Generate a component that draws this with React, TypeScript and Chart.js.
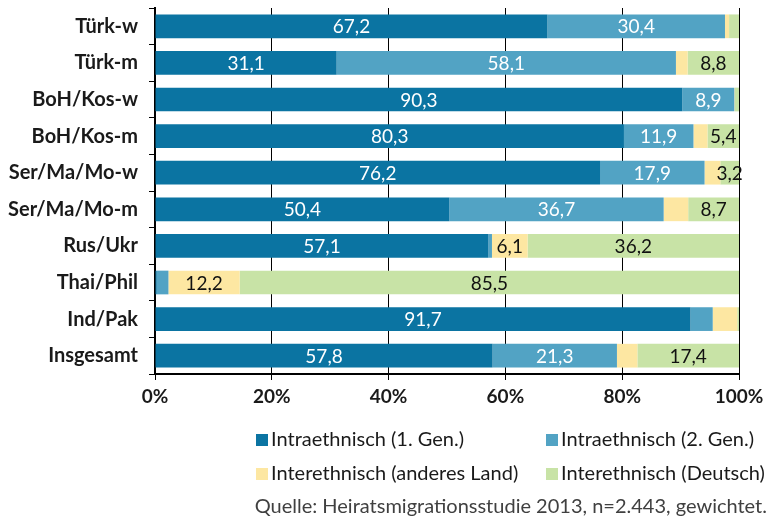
import React, { useEffect, useRef } from "react";
import { Chart, registerables } from "chart.js";

Chart.register(...registerables);

const categories = ["Türk-w", "Türk-m", "BoH/Kos-w", "BoH/Kos-m", "Ser/Ma/Mo-w", "Ser/Ma/Mo-m", "Rus/Ukr", "Thai/Phil", "Ind/Pak", "Insgesamt"];
const intra1 = [67.2, 31.1, 90.3, 80.3, 76.2, 50.4, 57.1, 0.3, 91.7, 57.8];
const intra2 = [30.4, 58.1, 8.9, 11.9, 17.9, 36.7, 0.6, 2.0, 3.8, 21.3];
const interOther = [0.7, 2.0, 0.1, 2.4, 2.7, 4.2, 6.1, 12.2, 4.2, 3.5];
const interGerman = [1.7, 8.8, 0.7, 5.4, 3.2, 8.7, 36.2, 85.5, 0.3, 17.4];
const seriesNames = ["Intraethnisch (1. Gen.)", "Intraethnisch (2. Gen.)", "Interethnisch (anderes Land)", "Interethnisch (Deutsch)"];
const seriesColors = ["#0b74a2", "#52a3c4", "#fde7a2", "#c8e3a6"];
const labelColors = ["#ffffff", "#ffffff", "#111111", "#111111"];
const labelMin = [5, 5, 6, 3];
const xTicks = [0, 20, 40, 60, 80, 100];
const source = "Quelle: Heiratsmigrationsstudie 2013, n=2.443, gewichtet.";

const FONT = "Lato, 'Open Sans', sans-serif";

const labelPlugin = {
  id: "segLabels",
  afterDatasetsDraw(chart: any) {
    const ctx = chart.ctx;
    ctx.save();
    ctx.font = `19px ${FONT}`;
    ctx.textAlign = "center";
    ctx.textBaseline = "middle";
    chart.data.datasets.forEach((ds: any, di: number) => {
      const meta = chart.getDatasetMeta(di);
      meta.data.forEach((el: any, i: number) => {
        const v = ds.data[i];
        if (v < labelMin[di]) return;
        ctx.fillStyle = labelColors[di];
        ctx.fillText(v.toFixed(1).replace(".", ","), (el.x + el.base) / 2, el.y + 1);
      });
    });
    ctx.restore();
  },
};

const legendPlugin = {
  id: "customLegend",
  afterDraw(chart: any) {
    const ctx = chart.ctx;
    ctx.save();
    ctx.font = `20px ${FONT}`;
    ctx.textBaseline = "middle";
    ctx.textAlign = "left";
    const cols = [256, 546];
    const rows = [440, 474];
    seriesNames.forEach((name, i) => {
      const x = cols[i % 2];
      const y = rows[Math.floor(i / 2)];
      ctx.fillStyle = seriesColors[i];
      ctx.fillRect(x, y - 6, 12, 12);
      ctx.fillStyle = "#1a1a1a";
      ctx.fillText(name, x + 15, y);
    });
    ctx.fillStyle = "#404040";
    ctx.textAlign = "right";
    ctx.fillText(source, 767, 507);
    ctx.restore();
  },
};

export default function App() {
  const ref = useRef<HTMLCanvasElement | null>(null);
  useEffect(() => {
    document.body.style.margin = "0";
    const datasets = [intra1, intra2, interOther, interGerman].map((d, i) => ({
      label: seriesNames[i],
      data: d,
      backgroundColor: seriesColors[i],
      borderWidth: 0,
      barPercentage: 0.9,
      categoryPercentage: 0.72,
    }));
    const chart = new Chart(ref.current as HTMLCanvasElement, {
      type: "bar",
      data: { labels: categories, datasets },
      options: {
        indexAxis: "y",
        animation: false,
        responsive: true,
        maintainAspectRatio: false,
        layout: { padding: { top: 8, right: 33, bottom: 107, left: 0 } },
        plugins: { legend: { display: false }, tooltip: { enabled: false } },
        scales: {
          x: {
            stacked: true,
            min: 0,
            max: 100,
            afterBuildTicks: (s: any) => { s.ticks = xTicks.map((v) => ({ value: v })); },
            afterFit: (s: any) => { s.height = 40; },
            ticks: {
              callback: (v: any) => v + "%",
              font: { family: FONT, size: 19, weight: "bold" },
              color: "#1a1a1a",
              padding: 5,
              maxRotation: 0,
            },
            grid: { color: "#000000", lineWidth: 1, drawTicks: true, tickLength: 6, tickColor: "#000000" },
            border: { color: "#000000", width: 2 },
          },
          y: {
            stacked: true,
            afterFit: (s: any) => { s.width = 155; s.paddingTop = 0; s.paddingBottom = 0; },
            ticks: {
              font: { family: FONT, size: 20, weight: "bold" },
              color: "#1a1a1a",
              padding: 11,
            },
            grid: { drawOnChartArea: false, drawTicks: true, tickLength: 6, tickColor: "#000000", color: "#000000" },
            border: { color: "#000000", width: 2 },
          },
        },
      },
      plugins: [labelPlugin, legendPlugin],
    });
    return () => chart.destroy();
  }, []);
  return (
    <div style={{ width: 772, height: 521, position: "relative", background: "#fff" }}>
      <canvas ref={ref} />
    </div>
  );
}
